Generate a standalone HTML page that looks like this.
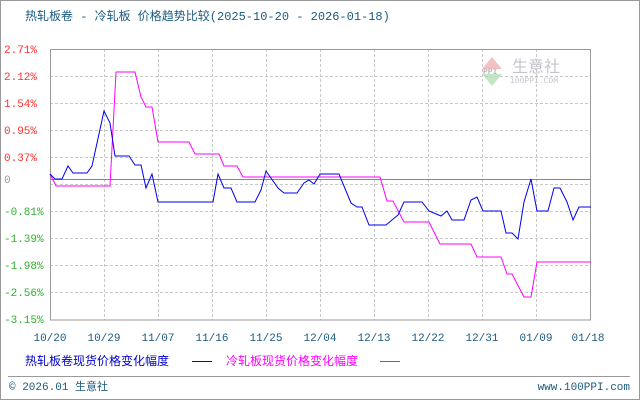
<!DOCTYPE html>
<html><head><meta charset="utf-8"><style>
body{margin:0;background:#fff;}
svg text{font-family:"Liberation Mono","Noto Sans CJK SC",monospace;}
</style></head><body>
<svg width="640" height="400" xmlns="http://www.w3.org/2000/svg">
<rect x="0.5" y="0.5" width="639" height="399" fill="#fff" stroke="#999"/>
<text x="25" y="20" font-size="12" fill="#1a5a80" font-family="'Liberation Mono','Noto Sans CJK SC',monospace">热轧板卷 - 冷轧板 价格趋势比较(2025-10-20 - 2026-01-18)</text>
<!-- watermark -->
<g opacity="0.35">
<polygon points="492,57 482,69 502,69" fill="#e05050"/>
<polygon points="492,86 482,74 502,74" fill="#50c050"/>
<text x="483" y="74" font-size="8" fill="#335" font-weight="bold">PPI</text>
<text x="512" y="72" font-size="16" fill="#557" font-family="'Noto Sans CJK SC',sans-serif">生意社</text>
<text x="510" y="83" font-size="8" fill="#557">100PPI.COM</text>
</g>
<g stroke="#c8c8c8" stroke-dasharray="3,2" stroke-width="1">
<line x1="50" x2="591" y1="76.5" y2="76.5"/><line x1="50" x2="591" y1="103.5" y2="103.5"/>
<line x1="50" x2="591" y1="130.5" y2="130.5"/><line x1="50" x2="591" y1="157.5" y2="157.5"/>
<line x1="50" x2="591" y1="184.5" y2="184.5"/><line x1="50" x2="591" y1="211.5" y2="211.5"/>
<line x1="50" x2="591" y1="238.5" y2="238.5"/><line x1="50" x2="591" y1="265.5" y2="265.5"/>
<line x1="50" x2="591" y1="292.5" y2="292.5"/>
<line x1="104.5" x2="104.5" y1="49" y2="320"/><line x1="158.5" x2="158.5" y1="49" y2="320"/>
<line x1="212.5" x2="212.5" y1="49" y2="320"/><line x1="266.5" x2="266.5" y1="49" y2="320"/>
<line x1="320.5" x2="320.5" y1="49" y2="320"/><line x1="374.5" x2="374.5" y1="49" y2="320"/>
<line x1="428.5" x2="428.5" y1="49" y2="320"/><line x1="482.5" x2="482.5" y1="49" y2="320"/>
<line x1="536.5" x2="536.5" y1="49" y2="320"/>
</g>
<line x1="50" x2="591" y1="179.5" y2="179.5" stroke="#888"/>
<rect x="50.5" y="49.5" width="540" height="270.5" fill="none" stroke="#999"/>
<g font-size="11" text-anchor="start">
<text x="4" y="53" fill="#ff3030">2.71%</text><text x="4" y="80" fill="#ff3030">2.12%</text>
<text x="4" y="107" fill="#ff3030">1.54%</text><text x="4" y="134" fill="#ff3030">0.95%</text>
<text x="4" y="161" fill="#ff3030">0.37%</text><text x="4" y="183" fill="#999">0</text>
<text x="4" y="215" fill="#30b030">-0.81%</text><text x="4" y="242" fill="#30b030">-1.39%</text>
<text x="4" y="269" fill="#30b030">-1.98%</text><text x="4" y="296" fill="#30b030">-2.56%</text>
<text x="4" y="323" fill="#30b030">-3.15%</text>
</g>
<g font-size="11" fill="#1a5a80" text-anchor="middle">
<text x="50" y="341">10/20</text><text x="104" y="341">10/29</text><text x="158" y="341">11/07</text>
<text x="212" y="341">11/16</text><text x="266" y="341">11/25</text><text x="320" y="341">12/04</text>
<text x="374" y="341">12/13</text><text x="428" y="341">12/22</text><text x="482" y="341">12/31</text>
<text x="536" y="341">01/09</text><text x="588" y="341">01/18</text>
</g>
<polyline fill="none" stroke="#ff00ff" stroke-width="1" points="50,174 56,186 110,186 116,72 135,72 141,97 146,107 152,107 158,142 189,142 195,154 219,154 224,166 237,166 243,177 380,177 387,201 393,201 404,222 429,222 440,244 471,244 477,257 501,257 507,274 512,274 524,297 531,297 537,262 591,262"/>
<polyline fill="none" stroke="#0000ee" stroke-width="1" points="50,174 55,179 62,179 68,166 73,173 87,173 92,166 104,111 110,123 115,156 129,156 135,165 141,165 146,188 152,174 158,202 213,202 218,174 224,188 231,188 237,202 255,202 261,190 266,171 278,188 284,193 297,193 304,183 309,180 314,184 320,174 339,174 351,203 357,207 362,207 369,225 386,225 398,215 404,202 422,202 429,211 441,216 447,211 452,220 464,220 471,200 477,197 483,211 501,211 506,233 512,233 518,239 524,202 531,179 537,211 548,211 554,188 560,188 567,202 573,220 579,207 591,207"/>
<text x="25" y="365" font-size="12" fill="#0000cc" font-family="'Noto Sans CJK SC',sans-serif">热轧板卷现货价格变化幅度</text>
<line x1="192" x2="212" y1="361.5" y2="361.5" stroke="#0000ee"/>
<text x="226" y="365" font-size="12" fill="#ff00ff" font-family="'Noto Sans CJK SC',sans-serif">冷轧板现货价格变化幅度</text>
<line x1="380" x2="400" y1="361.5" y2="361.5" stroke="#ff00ff"/>
<line x1="8" x2="630" y1="376.5" y2="376.5" stroke="#999"/>
<text x="9" y="390" font-size="11" fill="#1a5a80">© 2026.01 生意社</text>
<text x="630" y="390" font-size="11" fill="#1a5a80" text-anchor="end">www.100PPI.com</text>
</svg>
</body></html>
